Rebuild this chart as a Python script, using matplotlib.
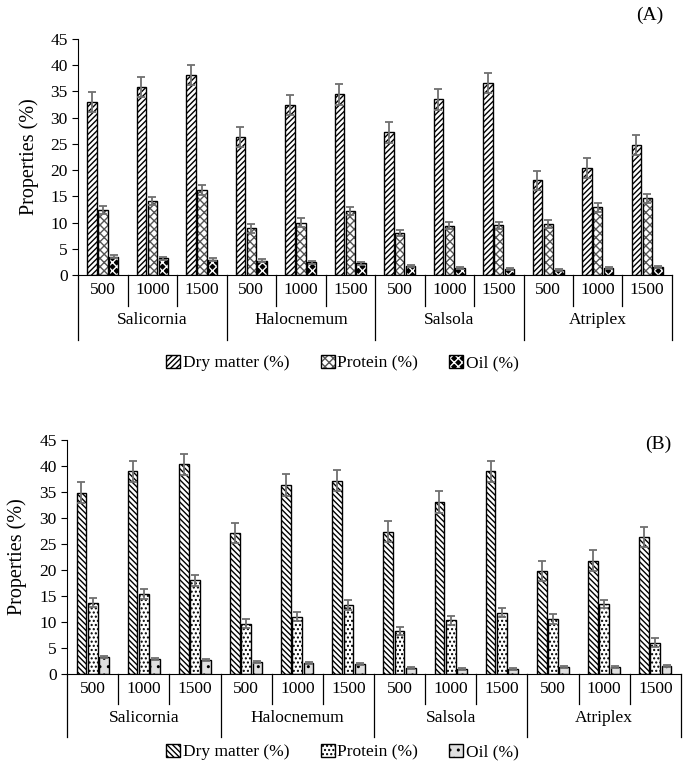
import numpy as np
import matplotlib.pyplot as plt
import matplotlib.transforms as mtransforms
from matplotlib.patches import Patch

plt.rcParams['font.family'] = ['Liberation Serif', 'DejaVu Serif']
plt.rcParams['hatch.linewidth'] = 1.0

species = ['Salicornia', 'Halocnemum', 'Salsola', 'Atriplex']
doses = ['500', '1000', '1500']
series = ['Dry matter (%)', 'Protein (%)', 'Oil (%)']

# panel A
dm_a = [33.0, 35.8, 38.2, 26.4, 32.5, 34.5, 27.2, 33.5, 36.7, 18.1, 20.4, 24.8]
dm_a_err = [1.9, 1.9, 1.9, 1.9, 1.9, 2.0, 2.0, 2.0, 1.9, 1.8, 1.9, 1.9]
pr_a = [12.4, 14.1, 16.2, 8.9, 10.0, 12.2, 8.0, 9.4, 9.5, 9.7, 12.9, 14.6]
pr_a_err = [0.7, 0.7, 0.9, 0.8, 0.8, 0.8, 0.6, 0.7, 0.7, 0.7, 0.8, 0.9]
oil_a = [3.5, 3.2, 2.9, 2.7, 2.4, 2.2, 1.7, 1.4, 1.2, 1.0, 1.4, 1.5]
oil_a_err = [0.3, 0.3, 0.3, 0.3, 0.3, 0.3, 0.2, 0.2, 0.2, 0.2, 0.2, 0.2]

# panel B
dm_b = [34.9, 39.0, 40.3, 27.1, 36.3, 37.2, 27.4, 33.0, 39.0, 19.8, 21.8, 26.4]
dm_b_err = [2.1, 2.0, 2.0, 2.0, 2.1, 2.0, 2.1, 2.1, 2.0, 2.0, 2.0, 1.9]
pr_b = [13.7, 15.4, 18.0, 9.7, 11.0, 13.3, 8.3, 10.3, 11.8, 10.6, 13.4, 6.0]
pr_b_err = [0.9, 0.9, 1.0, 0.9, 0.9, 0.9, 0.8, 0.9, 0.8, 0.9, 0.8, 0.9]
oil_b = [3.2, 2.9, 2.7, 2.3, 2.2, 1.9, 1.2, 1.0, 0.9, 1.3, 1.4, 1.5]
oil_b_err = [0.2, 0.2, 0.2, 0.2, 0.2, 0.2, 0.2, 0.2, 0.2, 0.2, 0.2, 0.2]

fig = plt.figure(figsize=(6.85, 7.71), dpi=100)
ax_a = fig.add_axes([0.114, 0.6433, 0.867, 0.3061])
ax_b = fig.add_axes([0.098, 0.1258, 0.896, 0.3035])

styles_a = [dict(fc='white', ec='black', hatch='//////'),
            dict(fc='white', ec='#555555', hatch='xxxx'),
            dict(fc='black', ec='white', hatch='xxxx')]
styles_b = [dict(fc='white', ec='black', hatch='\\\\\\\\\\\\'),
            dict(fc='white', ec='black', hatch='....'),
            dict(fc='#e0e0e0', ec='black', hatch='..')]


def draw(ax, vals, errs, styles, label, sub_y, grp_y, lab_y, pad):
    x = np.arange(12)
    w = 0.19
    for k in range(3):
        xs = x + (k - 1) * 0.22
        st = styles[k]
        ax.bar(xs, vals[k], w, color=st['fc'], edgecolor=st['ec'],
               hatch=st['hatch'], linewidth=0, zorder=2)
        ax.bar(xs, vals[k], w, fill=False, edgecolor='black',
               linewidth=1.0, zorder=3)
        ax.errorbar(xs, vals[k], yerr=errs[k], fmt='none', ecolor='#707070',
                    elinewidth=1.3, capsize=3, capthick=1.3, zorder=4)
    ax.set_xlim(-0.5, 11.5)
    ax.set_ylim(0, 45)
    ax.set_yticks(range(0, 46, 5))
    ax.tick_params(axis='y', labelsize=12.5, direction='out', length=4)
    ax.set_xticks([])
    ax.spines[['top', 'right']].set_visible(False)
    ax.set_ylabel('Properties (%)', fontsize=14.5, labelpad=pad)
    tr = mtransforms.blended_transform_factory(ax.transData, ax.transAxes)
    for i in range(13):
        pos = i - 0.5
        bottom = grp_y if i % 3 == 0 else sub_y
        ax.plot([pos, pos], [0, bottom], color='black', lw=0.9,
                transform=tr, clip_on=False)
    for i in range(12):
        ax.text(i, sub_y / 2, doses[i % 3], transform=tr, ha='center',
                va='center', fontsize=12.5)
    for g in range(4):
        ax.text(3 * g + 1, lab_y, species[g], transform=tr, ha='center',
                va='center', fontsize=12.5)
    ax.text(0.985, 1.0, label, transform=ax.transAxes, ha='right',
            va='center', fontsize=14)


draw(ax_a, [dm_a, pr_a, oil_a], [dm_a_err, pr_a_err, oil_a_err], styles_a,
     '(A)', -0.13, -0.275, -0.19, 8)
ax_a.texts[-1].set_position((0.985, 1.1))
draw(ax_b, [dm_b, pr_b, oil_b], [dm_b_err, pr_b_err, oil_b_err], styles_b,
     '(B)', -0.13, -0.27, -0.19, 9)
ax_b.texts[-1].set_position((0.985, 0.98))

for styles, ypix in [(styles_a, 363), (styles_b, 752)]:
    # fill+hatch patch under a plain black outline
    handles = [(Patch(facecolor=s['fc'], edgecolor=s['ec'], hatch=s['hatch'],
                      linewidth=0),
                Patch(fill=False, edgecolor='black', linewidth=1.0))
               for s in styles]
    fig.legend(handles, series, loc='center', ncol=3, frameon=False,
               bbox_to_anchor=(0.5, 1 - ypix / 771), fontsize=12.5,
               handlelength=0.8, handleheight=0.8, handletextpad=0.15,
               columnspacing=1.8)

fig.savefig('out.png', dpi=100)
